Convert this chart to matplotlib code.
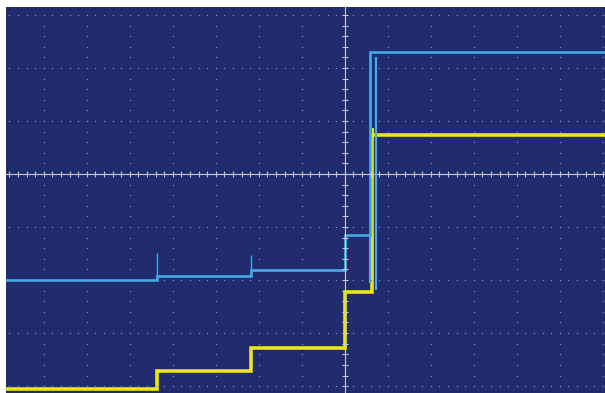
"""Scope capture: two channels stepping up, then the big edge just after the trigger."""
import numpy as np
import matplotlib
matplotlib.use("Agg")
import matplotlib.pyplot as plt

# time in divisions from trigger, amplitude in divisions from centre line
ch_blue_edges = [-7.95, -4.37, -2.19, 0.0, 0.58, 6.1]
ch_blue_levels = [-2.00, -1.92, -1.81, -1.15, 2.30]
ch_blue_spike_t = [-4.37, -2.19]
ch_blue_spike_top = [-1.49, -1.53]
ch_blue_ghost_t = [0.72]
ch_blue_ghost_lo = [-2.19]
ch_blue_ghost_hi = [2.21]

ch_yel_edges = [-7.95, -4.37, -2.19, 0.0, 0.62, 6.1]
ch_yel_levels = [-4.06, -3.72, -3.28, -2.23, 0.74]
ch_yel_spike_t = [0.66]
ch_yel_spike_top = [0.87]

BG = "#202c6e"; GRID = "#7f87bb"; AXIS = "#c9cbe6"
BLUE = "#43a9e8"; YEL = "#ece41c"

fig = plt.figure(figsize=(6.05, 3.93), dpi=100, facecolor="white")
ax = fig.add_axes([6/605, 0, 599/605, 386/393])
ax.set_facecolor(BG)
ax.set_xlim(-7.88, 6.05); ax.set_ylim(-4.13, 3.15)
for s in ax.spines.values(): s.set_visible(False)
ax.set_xticks([]); ax.set_yticks([])

# dotted graticule, one dot per 1/5 division
ys = np.arange(-4.2, 3.3, 0.2); xs = np.arange(-8.0, 6.2, 0.2)
for gx in range(-7, 7):
    if gx: ax.plot(np.full_like(ys, gx), ys, ls="none", marker="o", ms=1.0, color=GRID, mew=0)
for gy in range(-4, 4):
    if gy: ax.plot(xs, np.full_like(xs, gy), ls="none", marker="o", ms=1.0, color=GRID, mew=0)
# centre cross with minor ticks
ax.axhline(0, color=AXIS, lw=0.8); ax.axvline(0, color=AXIS, lw=0.8)
ax.plot(xs, np.zeros_like(xs), ls="none", marker="|", ms=5, mew=0.8, color=AXIS)
ax.plot(np.zeros_like(ys), ys, ls="none", marker="_", ms=5, mew=0.8, color=AXIS)

# traces
ax.stairs(ch_yel_levels, ch_yel_edges, baseline=None, color=YEL, lw=2.6)
ax.vlines(ch_yel_spike_t, ch_yel_levels[-1], ch_yel_spike_top, color=YEL, lw=1.4)
ax.stairs(ch_blue_levels, ch_blue_edges, baseline=None, color=BLUE, lw=1.9)
ax.vlines(ch_blue_spike_t, ch_blue_levels[:2], ch_blue_spike_top, color=BLUE, lw=1.0)
ax.vlines(ch_blue_ghost_t, ch_blue_ghost_lo, ch_blue_ghost_hi, color=BLUE, lw=1.6)
ax.vlines([ch_blue_edges[4]], -2.05, ch_blue_levels[3], color=BLUE, lw=1.6)

fig.savefig("out.png", dpi=100, facecolor="white")
